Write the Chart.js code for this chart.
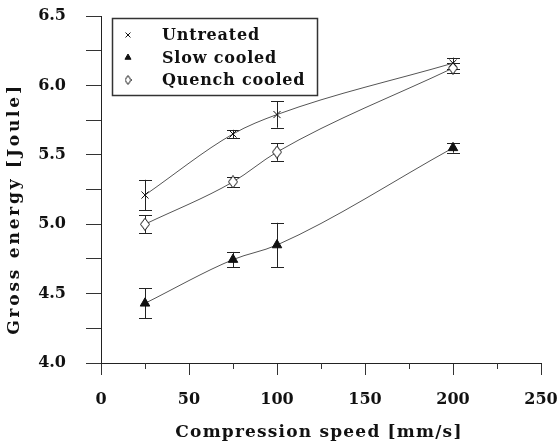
<!DOCTYPE html>
<html>
<head>
<meta charset="utf-8">
<script src="https://cdn.jsdelivr.net/npm/chart.js@4.4.1/dist/chart.umd.min.js"></script>
<style>
  html, body { margin: 0; padding: 0; background: #fff; }
  #wrap { width: 559px; height: 444px; }
</style>
</head>
<body>
<div id="wrap"><canvas id="chart" width="559" height="444"></canvas></div>
<script>
// compression speed [mm/s]
const speeds = [25, 75, 100, 200]

// gross energy [Joule]
const untreated = [5.21, 5.65, 5.79, 6.16]
const untreatedErr = [0.11, 0.03, 0.095, 0.04]
const slowCooled = [4.43, 4.745, 4.85, 5.55]
const slowCooledErr = [0.107, 0.055, 0.16, 0.035]
const quenchCooled = [5.0, 5.305, 5.52, 6.125]
const quenchCooledErr = [0.063, 0.035, 0.063, 0.035]

const seriesLabels = ['Untreated', 'Slow cooled', 'Quench cooled']
const xTitle = 'Compression speed [mm/s]'
const yTitle = 'Gross energy [Joule]'

const INK = '#111'
const SERIF = '"DejaVu Serif", "Liberation Serif", serif'

function makeDiamond(w, h) {
  const c = document.createElement('canvas')
  c.width = w
  c.height = h
  const g = c.getContext('2d')
  g.beginPath()
  g.moveTo(w / 2, 0.5)
  g.lineTo(w - 0.5, h / 2)
  g.lineTo(w / 2, h - 0.5)
  g.lineTo(0.5, h / 2)
  g.closePath()
  g.fillStyle = '#fff'
  g.fill()
  g.strokeStyle = INK
  g.lineWidth = 1
  g.stroke()
  return c
}
const diamond = makeDiamond(10, 13)
const smallDiamond = makeDiamond(7, 10)

function points(vals) {
  return speeds.map((x, i) => ({ x: x, y: vals[i] }))
}

function series(label, vals, errs, style, radius, fill) {
  return {
    label: label,
    data: points(vals),
    errors: errs,
    showLine: true,
    cubicInterpolationMode: 'monotone',
    borderColor: '#555',
    borderWidth: 1,
    pointStyle: style,
    pointRadius: radius,
    pointBorderColor: INK,
    pointBackgroundColor: fill,
    pointBorderWidth: 1,
    legendStyle: style === diamond ? smallDiamond : style
  }
}

// vertical error bars with caps, drawn from the scales
const errorBars = {
  id: 'errorBars',
  beforeDatasetsDraw(chart) {
    const ctx = chart.ctx
    const xs = chart.scales.x
    const ys = chart.scales.y
    ctx.save()
    ctx.strokeStyle = '#222'
    ctx.lineWidth = 1
    chart.data.datasets.forEach(ds => {
      ds.data.forEach((p, i) => {
        const e = ds.errors[i]
        const x = Math.round(xs.getPixelForValue(p.x)) + 0.5
        const top = ys.getPixelForValue(p.y + e)
        const bot = ys.getPixelForValue(p.y - e)
        ctx.beginPath()
        ctx.moveTo(x, top)
        ctx.lineTo(x, bot)
        ctx.moveTo(x - 6.5, Math.round(top) + 0.5)
        ctx.lineTo(x + 6.5, Math.round(top) + 0.5)
        ctx.moveTo(x - 6.5, Math.round(bot) + 0.5)
        ctx.lineTo(x + 6.5, Math.round(bot) + 0.5)
        ctx.stroke()
      })
    })
    ctx.restore()
  }
}

// short ticks between labelled ones on the x axis
const minorTicks = {
  id: 'minorTicks',
  afterDraw(chart) {
    const ctx = chart.ctx
    const xs = chart.scales.x
    ctx.save()
    ctx.strokeStyle = '#333'
    ctx.lineWidth = 1
    xs.ticks.filter(t => t.value % 50 !== 0).forEach(t => {
      const x = Math.round(xs.getPixelForValue(t.value)) + 0.5
      ctx.beginPath()
      ctx.moveTo(x, xs.top)
      ctx.lineTo(x, xs.top + 6)
      ctx.stroke()
    })
    ctx.restore()
  }
}

const axisTitles = {
  id: 'axisTitles',
  afterDraw(chart) {
    const ctx = chart.ctx
    const area = chart.chartArea
    ctx.save()
    ctx.fillStyle = INK
    ctx.font = 'bold 17px ' + SERIF
    ctx.textAlign = 'center'
    ctx.textBaseline = 'middle'
    ctx.letterSpacing = '1.2px'
    ctx.fillText(xTitle, (area.left + area.right) / 2 - 2, 433)
    ctx.translate(15, 209)
    ctx.rotate(-Math.PI / 2)
    ctx.letterSpacing = '2.8px'
    ctx.fillText(yTitle, 0, 0)
    ctx.restore()
  }
}

const boxLegend = {
  id: 'boxLegend',
  afterDraw(chart) {
    const ctx = chart.ctx
    const left = chart.chartArea.left + 11
    const top = chart.chartArea.top + 2
    ctx.save()
    ctx.strokeStyle = '#333'
    ctx.lineWidth = 1.5
    ctx.strokeRect(left + 0.5, top + 0.5, 205, 77)
    ctx.font = 'bold 16px ' + SERIF
    ctx.letterSpacing = '0.8px'
    ctx.textBaseline = 'middle'
    ctx.textAlign = 'left'
    chart.data.datasets.forEach((ds, i) => {
      const y = top + 17 + i * 22.5
      ctx.fillStyle = ds.pointBackgroundColor
      ctx.strokeStyle = INK
      ctx.lineWidth = 1
      Chart.helpers.drawPoint(ctx, {
        pointStyle: ds.legendStyle,
        radius: 3.5,
        borderWidth: 1,
        rotation: 0
      }, left + 16, y)
      ctx.fillStyle = INK
      ctx.fillText(ds.label, left + 50, y + 1)
    })
    ctx.restore()
  }
}

new Chart(document.getElementById('chart'), {
  type: 'scatter',
  data: {
    datasets: [
      series(seriesLabels[0], untreated, untreatedErr, 'crossRot', 5, INK),
      series(seriesLabels[1], slowCooled, slowCooledErr, 'triangle', 5.5, INK),
      series(seriesLabels[2], quenchCooled, quenchCooledErr, diamond, 6, '#fff')
    ]
  },
  options: {
    responsive: false,
    animation: false,
    layout: { padding: { left: 0, top: 16, right: 18, bottom: 0 } },
    plugins: {
      legend: { display: false },
      tooltip: { enabled: false }
    },
    scales: {
      x: {
        type: 'linear',
        min: 0,
        max: 250,
        afterFit: s => {
          s.height = 81
          s.paddingLeft = 0
          s.paddingRight = 0
        },
        ticks: {
          stepSize: 25,
          padding: 15,
          color: INK,
          font: { family: SERIF, size: 16, weight: 'bold' },
          maxRotation: 0,
          autoSkip: false,
          callback: v => (v % 50 === 0 ? String(v) : '')
        },
        grid: {
          drawOnChartArea: false,
          tickLength: 12,
          tickWidth: 1,
          tickColor: c => (c.tick && c.tick.value % 50 === 0 ? '#333' : 'rgba(0,0,0,0)')
        },
        border: { display: true, color: '#222', width: 1 }
      },
      y: {
        min: 4,
        max: 6.5,
        afterFit: s => {
          s.width = 101
          s.paddingTop = 0
          s.paddingBottom = 0
        },
        ticks: {
          stepSize: 0.25,
          padding: 20,
          color: INK,
          font: { family: SERIF, size: 16, weight: 'bold' },
          autoSkip: false,
          callback: v => (Math.round(v * 100) % 50 === 0 ? v.toFixed(1) : '')
        },
        grid: {
          drawOnChartArea: false,
          tickLength: 15,
          tickWidth: 1,
          tickColor: '#333'
        },
        border: { display: true, color: '#222', width: 1 }
      }
    }
  },
  plugins: [errorBars, minorTicks, axisTitles, boxLegend]
})
</script>
</body>
</html>
